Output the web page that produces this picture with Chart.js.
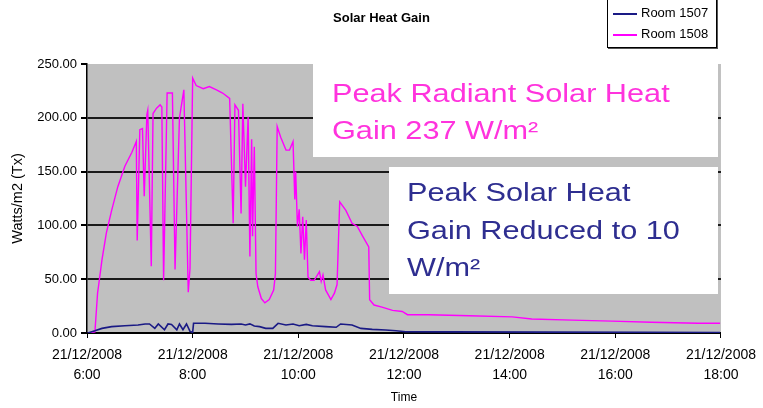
<!DOCTYPE html>
<html lang="en">
<head>
  <meta charset="UTF-8">
  <title>Solar Heat Gain</title>
  <script src="https://cdn.jsdelivr.net/npm/chart.js"></script>
  <style>
    body {
      margin: 0;
      padding: 0;
      background: #fff;
      font-family: 'Liberation Sans', Arial, sans-serif;
    }

    .wrap {
      position: relative;
      width: 763px;
      height: 408px;
      overflow: hidden;
    }

    #chart {
      position: absolute;
      left: 0;
      top: 0;
    }

    .title {
      position: absolute;
      left: 0;
      top: 10px;
      width: 763px;
      text-align: center;
      font-size: 13px;
      line-height: 16px;
      font-weight: bold;
    }

    #legend {
      position: absolute;
      left: 607px;
      top: -3px;
      width: 108px;
      height: 45px;
      border: 1px solid #000;
      box-shadow: 1px 1px 0 #555;
      background: #fff;
      padding-top: 4px;
      box-sizing: content-box;
    }

    #legend .item {
      height: 21px;
      line-height: 21px;
      font-size: 13px;
      white-space: nowrap;
    }

    #legend .swatch {
      display: inline-block;
      width: 24px;
      height: 2px;
      margin: 0 4px 0 5px;
      vertical-align: middle;
    }

    .note {
      position: absolute;
      background: #fff;
      box-sizing: border-box;
    }

    .note div {
      font-size: 26px;
      line-height: 37px;
      white-space: nowrap;
      transform: scaleX(1.18);
      transform-origin: left center;
    }

    .note1 {
      left: 313px;
      top: 63px;
      width: 405px;
      height: 94px;
      padding: 12px 0 0 19px;
      color: #ff33dd;
    }

    .note2 {
      left: 389px;
      top: 167px;
      width: 329px;
      height: 127px;
      padding: 7px 0 0 18px;
      color: #2e2e90;
    }

    .note2 div {
      line-height: 37.5px;
    }
  </style>
</head>
<body>

  <div class="wrap">
    <canvas id="chart" width="763" height="408"></canvas>
    <div class="title">Solar Heat Gain</div>
    <div id="legend"></div>
    <div class="note note1">
      <div>Peak Radiant Solar Heat</div>
      <div>Gain 237 W/m²</div>
    </div>
    <div class="note note2">
      <div>Peak Solar Heat</div>
      <div>Gain Reduced to 10</div>
      <div>W/m²</div>
    </div>
  </div>

  <script>
    // times are minutes after midnight on 21/12/2008
    const seriesNames = ['Room 1507', 'Room 1508'];

    const times1507 = [361, 369, 377, 388, 403, 418, 426, 431, 437, 441, 448, 452, 456, 462, 465,
      469, 473, 477, 480, 481, 494, 509, 524, 535, 540, 545, 550, 556, 563, 571, 577, 586, 594, 601,
      609, 616, 631, 643, 648, 661, 671, 684, 699, 711, 722, 771, 884, 997, 1079];
    const room1507 = [0, 2, 4.3, 5.9, 6.8, 7.4, 8.4, 8.4, 4.4, 8.4, 3, 8.4, 8, 3, 8.4,
      3, 8.4, 1.5, 0.6, 9, 9, 8.4, 8, 8.4, 7.4, 8.5, 6.5, 5.9, 4.3, 4.3, 9, 7.4, 8.4, 6.8,
      8, 6.8, 5.9, 5.3, 8.4, 7.4, 4.3, 3.4, 2.8, 2.1, 1.2, 1, 0.8, 0.6, 0.5];

    const times1508 = [361, 369, 372, 373, 377, 382, 388, 395, 403, 411, 416, 417, 420, 423, 425,
      428, 429, 433, 435, 439, 443, 445, 447, 451, 457, 460, 465, 470, 475, 477, 480, 484, 492, 499,
      507, 514, 522, 526, 528, 532, 535, 537, 540, 543, 545, 547, 548, 550, 552, 554, 558, 562, 567,
      572, 574, 576, 580, 586, 590, 594, 596, 597, 599, 601, 603, 605, 607, 609, 611, 614, 618, 624,
      626, 628, 631, 637, 641, 644, 647, 654, 661, 667, 673, 680, 681, 686, 695, 707, 718, 724, 748,
      794, 843, 865, 911, 956, 1001, 1054, 1079];
    const room1508 = [0, 1, 37, 43, 68, 93, 114, 136, 155, 168, 178, 86, 189, 190, 127,
      203, 207, 62, 204, 209, 212, 210, 49, 223, 223, 59, 200, 226, 38, 60, 237, 230, 227, 229,
      226, 223, 218, 102, 212, 207, 111, 213, 136, 201, 71, 180, 90, 173, 55, 43, 32, 28, 31,
      40, 55, 192, 182, 170, 170, 178, 124, 150, 99, 115, 74, 108, 68, 105, 52, 49, 49, 57,
      48, 54, 40, 31, 37, 45, 122, 114, 102, 99, 90, 80, 31, 26, 24, 21, 20, 17, 17,
      16, 15, 13, 12, 11, 10, 9, 9];

    const dateLabel = '21/12/2008';
    const xMin = 360, xMax = 1080, xStep = 120;
    const yMax = 250, yStep = 50;

    function toPoints(times, values) {
      return times.map((t, i) => ({ x: t, y: values[i] }));
    }

    Chart.defaults.font.family = "'Liberation Sans', Arial, sans-serif";
    Chart.defaults.color = '#000';

    // gray plot area like the spreadsheet chart
    const plotBackground = {
      id: 'plotBackground',
      beforeDraw(chart) {
        const a = chart.chartArea;
        const ctx = chart.ctx;
        ctx.save();
        ctx.fillStyle = '#c0c0c0';
        ctx.fillRect(a.left, a.top, a.right - a.left, a.bottom - a.top);
        ctx.restore();
      }
    };

    const chart = new Chart(document.getElementById('chart'), {
      type: 'line',
      data: {
        datasets: [
          {
            label: seriesNames[0],
            data: toPoints(times1507, room1507),
            borderColor: '#1a1a85',
            backgroundColor: '#1a1a85',
            borderWidth: 1.6,
            pointRadius: 0,
            tension: 0
          },
          {
            label: seriesNames[1],
            data: toPoints(times1508, room1508),
            borderColor: '#ff00ff',
            backgroundColor: '#ff00ff',
            borderWidth: 1.4,
            pointRadius: 0,
            tension: 0
          }
        ]
      },
      options: {
        responsive: false,
        animation: false,
        layout: { padding: { left: 0, right: 41, top: 64, bottom: 0 } },
        plugins: {
          legend: { display: false },
          title: { display: false },
          tooltip: { enabled: false }
        },
        scales: {
          x: {
            type: 'linear',
            min: xMin,
            max: xMax,
            afterFit: s => { s.height = 75; },
            afterBuildTicks: s => {
              s.ticks = [];
              for (let v = xMin; v <= xMax; v += xStep) s.ticks.push({ value: v });
            },
            ticks: {
              autoSkip: false,
              maxRotation: 0,
              padding: 7,
              font: { size: 14, lineHeight: 1.43 },
              callback: v => [dateLabel, (v / 60) + ':00']
            },
            grid: {
              drawOnChartArea: false,
              drawTicks: true,
              tickLength: 5,
              color: '#000'
            },
            border: { color: '#000', width: 2 },
            title: {
              display: true,
              text: 'Time',
              font: { size: 12 },
              padding: { top: 0, bottom: 3 }
            }
          },
          y: {
            min: 0,
            max: yMax,
            afterFit: s => { s.width = 87; },
            ticks: {
              stepSize: yStep,
              padding: 4,
              font: { size: 13 },
              callback: v => v.toFixed(2)
            },
            grid: {
              color: ctx => ctx.tick && ctx.tick.value === yMax ? 'rgba(0,0,0,0)' : '#1a1a1a',
              tickColor: '#000',
              lineWidth: 2,
              tickLength: 6
            },
            border: { color: '#000', width: 1.5 },
            title: {
              display: true,
              text: 'Watts/m2 (Tx)',
              font: { size: 14.5 },
              padding: { top: 9, bottom: 0 }
            }
          }
        }
      },
      plugins: [plotBackground]
    });

    // legend box built from the chart's datasets
    const legend = document.getElementById('legend');
    chart.data.datasets.forEach(ds => {
      const row = document.createElement('div');
      row.className = 'item';
      row.innerHTML = `<span class="swatch" style="background:${ds.borderColor}"></span>${ds.label}`;
      legend.appendChild(row);
    });
  </script>
</body>
</html>
